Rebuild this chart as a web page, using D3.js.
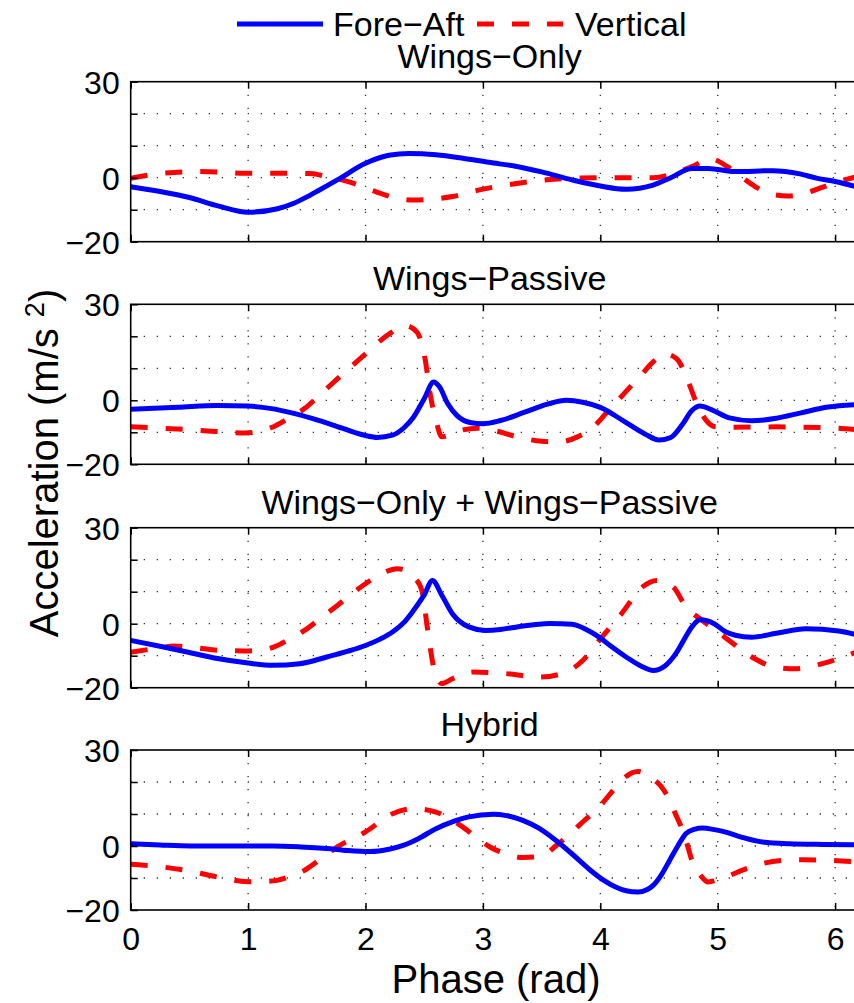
<!DOCTYPE html>
<html>
<head>
<meta charset="utf-8">
<script src="https://cdn.jsdelivr.net/npm/d3@7"></script>
<style>
  html, body { margin: 0; padding: 0; background: #fff; }
  svg { display: block; }
  text { font-family: "Liberation Sans", Arial, Helvetica, sans-serif; fill: #000; }
</style>
</head>
<body>
<svg id="chart" width="854" height="1003"></svg>
<script>
// ---------------- data ----------------
const seriesNames = ["Fore\u2212Aft", "Vertical"];
const panelTitles = ["Wings\u2212Only", "Wings\u2212Passive", "Wings\u2212Only + Wings\u2212Passive", "Hybrid"];
const phaseTicks = [0, 1, 2, 3, 4, 5, 6];
const accelTicks = [-20, -10, 0, 10, 20, 30];
const accelTickLabels = ["\u221220", "", "0", "", "", "30"];
const phaseDomain = [0, 6.2];
const accelDomain = [-20, 30];

// [phase (rad), acceleration (m/s^2)]
const wingsOnlyForeAft = [[0,-2.8],[0.25,-4.3],[0.5,-6.2],[0.75,-8.9],[1.0,-10.8],[1.25,-9.7],[1.39,-8],[1.5,-6],[1.6,-4],[1.76,-0.7],[2.0,4.5],[2.2,7.0],[2.37,7.6],[2.6,7.2],[2.83,6.1],[3.05,4.8],[3.29,3.5],[3.5,1.8],[3.76,-0.7],[4.0,-2.6],[4.22,-3.6],[4.45,-2.3],[4.6,0],[4.78,2.9],[4.92,2.9],[5.15,1.9],[5.47,2.2],[5.7,1.2],[5.85,-0.2],[6.0,-1.2],[6.2,-3.0]];
const wingsOnlyVertical = [[0,-0.2],[0.28,1.4],[0.6,1.9],[0.97,1.4],[1.2,1.4],[1.53,1.3],[1.67,0.3],[1.86,-1.3],[2.09,-4.4],[2.25,-6.3],[2.41,-7],[2.6,-6.6],[2.74,-5.9],[2.97,-3.8],[3.29,-1.8],[3.53,-0.7],[3.76,-0.2],[4.1,0],[4.45,0],[4.62,1.2],[4.78,3.5],[4.94,5.9],[5.08,3.5],[5.2,0.3],[5.32,-2.8],[5.46,-5.2],[5.6,-5.7],[5.76,-4.7],[5.89,-3.0],[6.07,-0.8],[6.2,0.5]];

const wingsPassiveForeAft = [[0,-2.8],[0.4,-2.2],[0.74,-1.6],[1.0,-1.8],[1.2,-2.6],[1.39,-4.1],[1.6,-6.3],[1.8,-8.7],[2.0,-11],[2.1,-11.6],[2.23,-10.9],[2.33,-8.5],[2.41,-5.2],[2.5,0.5],[2.58,5.7],[2.63,4.2],[2.7,-1],[2.78,-4.8],[2.9,-7.0],[3.0,-7.3],[3.15,-6.3],[3.35,-3.8],[3.55,-1.2],[3.71,0],[3.85,-0.6],[4.0,-2.2],[4.2,-6.5],[4.38,-10.5],[4.5,-12.4],[4.6,-11.6],[4.7,-7.5],[4.78,-3.2],[4.85,-1.8],[4.95,-3.0],[5.1,-5.5],[5.29,-6.4],[5.5,-5.6],[5.7,-4.0],[5.94,-2.1],[6.2,-1.3]];
const wingsPassiveVertical = [[0,-8.3],[0.3,-8.8],[0.6,-9.4],[0.97,-10.2],[1.2,-8.5],[1.35,-5.5],[1.48,-2.6],[1.62,2],[1.76,6.7],[2.0,14.5],[2.2,20.7],[2.34,23.3],[2.44,21.2],[2.51,12.4],[2.55,2.1],[2.6,-6.2],[2.65,-11.4],[2.8,-9.5],[2.95,-8.7],[3.1,-9.5],[3.3,-11.5],[3.5,-12.8],[3.65,-13],[3.8,-11.5],[3.95,-8],[4.05,-4],[4.2,2],[4.35,8],[4.45,12],[4.55,14.5],[4.65,13],[4.74,6.7],[4.81,0],[4.9,-6.2],[4.98,-8.3],[5.1,-8.4],[5.5,-8.3],[6.0,-8.7],[6.2,-9.3]];

const combinedForeAft = [[0,-5.2],[0.28,-7.3],[0.5,-9],[0.74,-10.9],[1.0,-12.3],[1.21,-13],[1.44,-12.5],[1.67,-10.4],[1.85,-8.6],[2.0,-6.8],[2.12,-4.9],[2.23,-2.6],[2.33,0.5],[2.41,4.2],[2.5,9],[2.57,13.5],[2.65,8.9],[2.74,3.1],[2.88,-1],[3.02,-2.1],[3.15,-1.8],[3.29,-1.0],[3.57,0.1],[3.76,-0.2],[3.88,-1.8],[3.99,-4.2],[4.1,-7.3],[4.22,-10.4],[4.35,-13.3],[4.45,-14.6],[4.55,-13.2],[4.64,-9.5],[4.71,-5.2],[4.78,-1],[4.85,1.2],[4.97,0],[5.07,-2.6],[5.15,-3.6],[5.29,-4.2],[5.5,-3],[5.75,-1.6],[6.03,-2.3],[6.2,-3.6]];
const combinedVertical = [[0,-8.9],[0.2,-7.8],[0.37,-7],[0.55,-7.5],[0.74,-8.3],[0.97,-8.5],[1.12,-8.2],[1.25,-6.8],[1.35,-4.8],[1.48,-2.1],[1.62,1.8],[1.76,5.7],[1.9,9.8],[2.04,13.5],[2.15,15.9],[2.27,17.2],[2.35,16.6],[2.41,14.6],[2.48,10.4],[2.53,-2.1],[2.58,-13.5],[2.65,-18.7],[2.74,-17.2],[2.92,-15.1],[3.2,-15.6],[3.48,-16.7],[3.71,-15.1],[3.85,-11.5],[3.99,-5.2],[4.18,3.1],[4.36,11.5],[4.48,13.5],[4.62,11.5],[4.73,5.2],[4.87,1.0],[5.06,-4.2],[5.29,-10.4],[5.48,-13.5],[5.66,-14.1],[5.89,-12.5],[6.2,-8.6]];

const hybridForeAft = [[0,0.7],[0.25,0.3],[0.51,0],[0.9,0],[1.21,0],[1.45,-0.3],[1.67,-0.8],[1.85,-1.4],[2.04,-1.7],[2.2,-1],[2.32,0.2],[2.45,2.3],[2.6,5.4],[2.75,7.7],[2.88,9.1],[3.09,9.9],[3.2,9.5],[3.34,8.0],[3.48,5.5],[3.62,1.8],[3.76,-2.5],[3.9,-7.1],[4.02,-10.5],[4.13,-12.8],[4.22,-14.0],[4.32,-14.4],[4.4,-13.6],[4.45,-12.3],[4.52,-9],[4.59,-4.5],[4.66,0],[4.73,3.9],[4.8,5.2],[4.87,5.6],[4.96,5.2],[5.06,4.4],[5.2,2.8],[5.38,1.25],[5.61,0.7],[5.9,0.5],[6.2,0.4]];
const hybridVertical = [[0,-5.7],[0.28,-6.6],[0.5,-7.8],[0.74,-9.7],[1.02,-11.2],[1.21,-10.9],[1.35,-9.6],[1.48,-7.6],[1.62,-4],[1.76,-0.3],[2.0,4.4],[2.23,10.1],[2.41,11.7],[2.6,10.6],[2.72,8.5],[2.83,5.9],[2.95,2.5],[3.06,-0.3],[3.2,-2.5],[3.34,-3.6],[3.45,-3.4],[3.53,-2.6],[3.62,0],[3.71,2.8],[3.85,7.5],[3.99,12.2],[4.1,17],[4.18,20.5],[4.32,23.3],[4.45,21],[4.52,18.5],[4.59,14.3],[4.64,10],[4.69,5.9],[4.74,0.5],[4.78,-4.5],[4.85,-9],[4.92,-11.25],[5.0,-10.5],[5.1,-9.2],[5.25,-7],[5.38,-5.5],[5.66,-4.3],[5.9,-4.4],[6.2,-5.0]];

const panelForeAft = [wingsOnlyForeAft, wingsPassiveForeAft, combinedForeAft, hybridForeAft];
const panelVertical = [wingsOnlyVertical, wingsPassiveVertical, combinedVertical, hybridVertical];

// ---------------- layout ----------------
const left = 130.7, right = 858.6;
const panelTops = [81.7, 304.3, 527.7, 750];
const panelH = 160;
const blue = "#0000ff", red = "#ff0000";
const lineW = 5;
const dash = "17,18";

const svg = d3.select("#chart");
const x = d3.scaleLinear().domain(phaseDomain).range([left, right]);

// legend
const leg = svg.append("g");
leg.append("line").attr("x1", 237).attr("x2", 323).attr("y1", 24).attr("y2", 24)
  .attr("stroke", blue).attr("stroke-width", lineW);
leg.append("text").attr("x", 333).attr("y", 36).style("font-size", "34px").text(seriesNames[0]);
leg.append("line").attr("x1", 477).attr("x2", 563).attr("y1", 24).attr("y2", 24)
  .attr("stroke", red).attr("stroke-width", lineW).attr("stroke-dasharray", dash);
leg.append("text").attr("x", 575).attr("y", 36).style("font-size", "34px").text(seriesNames[1]);

panelTops.forEach((top, i) => {
  const y = d3.scaleLinear().domain(accelDomain).range([top + panelH, top]);
  const g = svg.append("g");

  const clipId = "clip" + i;
  svg.append("clipPath").attr("id", clipId).append("rect")
    .attr("x", left).attr("y", top).attr("width", right - left).attr("height", panelH);

  // grid (dotted)
  const grid = g.append("g").attr("stroke", "#333").attr("stroke-width", 1.3)
    .attr("stroke-dasharray", "1.3,11.7");
  phaseTicks.filter(t => t > 0).forEach(t => {
    grid.append("line").attr("x1", x(t)).attr("x2", x(t)).attr("y1", top).attr("y2", top + panelH);
  });
  accelTicks.filter(t => t > accelDomain[0] && t < accelDomain[1]).forEach(t => {
    grid.append("line").attr("x1", left).attr("x2", right).attr("y1", y(t)).attr("y2", y(t));
  });

  // lines
  const line = d3.line().x(d => x(d[0])).y(d => y(d[1])).curve(d3.curveMonotoneX);
  const lg = g.append("g").attr("clip-path", `url(#${clipId})`);
  lg.append("path").datum(panelVertical[i]).attr("d", line).attr("fill", "none")
    .attr("stroke", red).attr("stroke-width", lineW).attr("stroke-dasharray", dash);
  lg.append("path").datum(panelForeAft[i]).attr("d", line).attr("fill", "none")
    .attr("stroke", blue).attr("stroke-width", lineW).attr("stroke-linejoin", "round");

  // axes: box and inward ticks
  const yAxis = d3.axisLeft(y).tickValues(accelTicks).tickSizeInner(-7).tickSizeOuter(0)
    .tickFormat((d, k) => accelTickLabels[k]);
  const ya = g.append("g").attr("transform", `translate(${left},0)`).call(yAxis);
  ya.select(".domain").remove();
  ya.selectAll(".tick line").attr("stroke", "#000").attr("stroke-width", 1.5);
  ya.selectAll(".tick text").style("font-size", "32px").attr("x", -11).attr("dy", "0.36em")
    .style("font-family", '"Liberation Sans", Arial, sans-serif');

  const xBottom = d3.axisBottom(x).tickValues(phaseTicks).tickSizeInner(-7).tickSizeOuter(0)
    .tickFormat(i === 3 ? d3.format("d") : () => "");
  const xb = g.append("g").attr("transform", `translate(0,${top + panelH})`).call(xBottom);
  xb.select(".domain").remove();
  xb.selectAll(".tick line").attr("stroke", "#000").attr("stroke-width", 1.5);
  xb.selectAll(".tick text").style("font-size", "32px").attr("y", 17).attr("dy", "0.71em")
    .style("font-family", '"Liberation Sans", Arial, sans-serif');

  const xTop = d3.axisTop(x).tickValues(phaseTicks).tickSizeInner(-7).tickSizeOuter(0).tickFormat(() => "");
  const xt = g.append("g").attr("transform", `translate(0,${top})`).call(xTop);
  xt.select(".domain").remove();
  xt.selectAll(".tick line").attr("stroke", "#000").attr("stroke-width", 1.5);

  g.append("rect").attr("x", left).attr("y", top).attr("width", right - left).attr("height", panelH)
    .attr("fill", "none").attr("stroke", "#000").attr("stroke-width", 1.6);

  // title
  g.append("text").attr("x", (left + right) / 2 - 5).attr("y", top - 14)
    .attr("text-anchor", "middle").style("font-size", "34px").text(panelTitles[i]);
});

// axis labels
svg.append("text").attr("x", 496).attr("y", 993).attr("text-anchor", "middle")
  .style("font-size", "40px").text("Phase (rad)");

const yl = svg.append("text").attr("transform", "translate(58,463) rotate(-90)")
  .attr("text-anchor", "middle").style("font-size", "40px");
yl.append("tspan").text("Acceleration (m/s ");
yl.append("tspan").attr("dy", "-14").style("font-size", "27px").text("2");
yl.append("tspan").attr("dy", "14").text(")");
</script>
</body>
</html>
